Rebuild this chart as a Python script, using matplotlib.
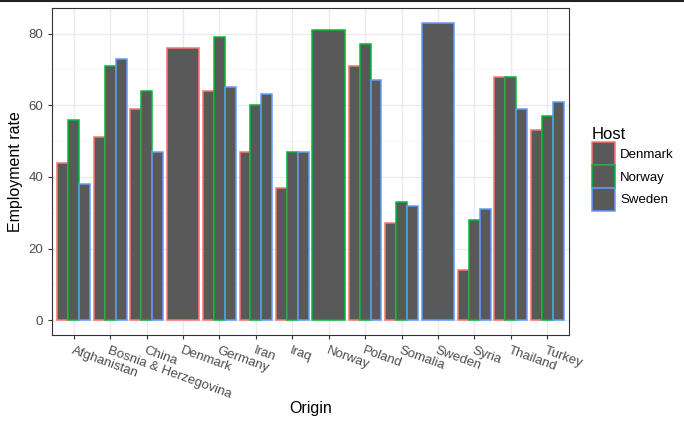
import numpy as np
import matplotlib.pyplot as plt
from matplotlib.patches import Patch
from matplotlib.lines import Line2D

plt.rcParams['font.family'] = ['Liberation Sans', 'DejaVu Sans']

origins = ['Afghanistan', 'Bosnia & Herzegovina', 'China', 'Denmark', 'Germany',
           'Iran', 'Iraq', 'Norway', 'Poland', 'Somalia', 'Sweden', 'Syria',
           'Thailand', 'Turkey']
hosts = ['Denmark', 'Norway', 'Sweden']
# None = no data (origin country equals host)
denmark = [44, 51, 59, 76, 64, 47, 37, None, 71, 27, None, 14, 68, 53]
norway = [56, 71, 64, None, 79, 60, 47, 81, 77, 33, None, 28, 68, 57]
sweden = [38, 73, 47, None, 65, 63, 47, None, 67, 32, 83, 31, 59, 61]
host_colors = ['#F8766D', '#00BA38', '#619CFF']

series = [denmark, norway, sweden]

fig = plt.figure(figsize=(6.84, 4.26), dpi=100)
ax = fig.add_axes([52 / 684, 1 - 335 / 426, 517 / 684, 327 / 426])

for i, org in enumerate(origins):
    present = [(h, s[i]) for h, s in enumerate(series) if s[i] is not None]
    n = len(present)
    w = 0.9 / n
    for k, (h, v) in enumerate(present):
        x0 = i + 1 - 0.45 + k * w
        ax.bar(x0, v, width=w, align='edge', color='#595959',
               edgecolor=host_colors[h], linewidth=1.1, zorder=3)

ax.set_xlim(0.4, len(origins) + 0.6)
ax.set_ylim(-4.15, 87.15)
ax.set_yticks([0, 20, 40, 60, 80])
ax.set_yticks([10, 30, 50, 70], minor=True)
ax.set_xticks(np.arange(1, len(origins) + 1))
ax.set_xticklabels(origins, rotation=-20, ha='left', va='top',
                   rotation_mode='anchor')
ax.grid(True, which='major', color='#EBEBEB', linewidth=1.0, zorder=0)
ax.grid(True, which='minor', axis='y', color='#F3F3F3', linewidth=0.5, zorder=0)
ax.tick_params(axis='both', which='major', labelsize=9.5, colors='#333333',
               length=3, width=0.8, labelcolor='#4D4D4D')
ax.tick_params(axis='y', which='minor', length=0)
ax.tick_params(axis='x', pad=4)
for sp in ax.spines.values():
    sp.set_color('#333333')
    sp.set_linewidth(0.8)

ax.set_xlabel('Origin', fontsize=11.5, labelpad=0)
ax.set_ylabel('Employment rate', fontsize=11.5, labelpad=4)

handles = [Patch(facecolor='#595959', edgecolor=c, linewidth=1.1, label=h)
           for h, c in zip(hosts, host_colors)]
leg = fig.legend(handles=handles, title='Host', loc='upper left',
                 bbox_to_anchor=(592 / 684, 1 - 127 / 426), frameon=False,
                 fontsize=9.5, title_fontsize=12, handlelength=1.75,
                 handleheight=2.3, handletextpad=0.4, labelspacing=0.0,
                 borderaxespad=0, borderpad=0)
leg._legend_box.align = 'left'

fig.add_artist(Line2D([0, 1], [1 - 1 / 426, 1 - 1 / 426], color='#222222',
                      linewidth=1.5, transform=fig.transFigure))

fig.savefig('out.png', dpi=100)
